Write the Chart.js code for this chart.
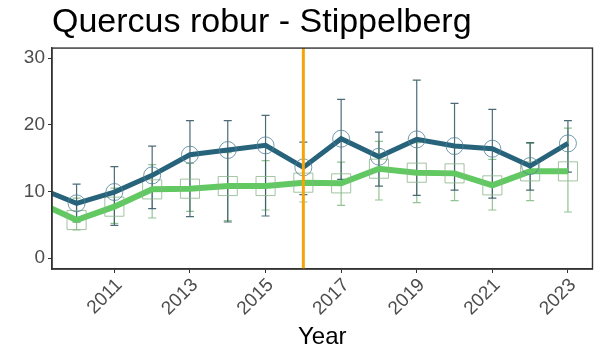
<!DOCTYPE html>
<html>
<head>
<meta charset="utf-8">
<script src="https://cdn.jsdelivr.net/npm/chart.js@4.4.1/dist/chart.umd.min.js"></script>
<style>
  html, body { margin: 0; padding: 0; background: #fff; }
  #wrap { width: 607px; height: 352px; }
</style>
</head>
<body>
<div id="wrap"><canvas id="chart" width="607" height="352"></canvas></div>
<script>
// years (2009 lies just outside the visible x range, only its line segment shows)
var years = [2009, 2010, 2011, 2012, 2013, 2014, 2015, 2016, 2017, 2018, 2019, 2020, 2021, 2022, 2023];

// dark teal series (circles)
var blueMean = [10.5, 8.2, 9.9, 12.4, 15.5, 16.2, 16.9, 13.6, 17.9, 15.2, 17.8, 16.8, 16.4, 13.8, 17.2];
var blueLow  = [null, 5.4, 4.9, 7.4, 6.2, 5.4, 6.3, 9.5, 11.8, 10.8, 9.4, 10.2, 9.0, 10.2, 12.9];
var blueHigh = [null, 11.1, 13.7, 16.8, 20.6, 20.6, 21.4, 17.4, 23.8, 18.9, 26.7, 23.2, 22.3, 17.3, 20.6];

// green series (squares)
var greenMean = [8.3, 5.7, 7.7, 10.3, 10.4, 10.8, 10.8, 11.3, 11.2, 13.4, 12.8, 12.7, 10.9, 13.0, 13.0];
var greenLow  = [null, 4.2, 5.2, 6.0, 7.0, 5.6, 7.2, 8.4, 7.9, 8.7, 8.3, 8.6, 7.2, 8.6, 6.9];
var greenHigh = [null, 9.0, 10.5, 14.0, 14.2, 15.8, 14.6, 14.0, 14.4, 17.5, 17.3, 17.0, 14.8, 17.2, 19.5];

var xTicks = [2011, 2013, 2015, 2017, 2019, 2021, 2023];
var yTicks = [0, 10, 20, 30];
var markerYear = 2016;

function toPoints(vals) {
  return years.map(function (y, i) { return { x: y, y: vals[i] }; });
}

// error bars + panel border + orange reference line
var extras = {
  id: 'extras',
  beforeDatasetsDraw: function (chart) {
    var ctx = chart.ctx, xs = chart.scales.x, ys = chart.scales.y, a = chart.chartArea;
    ctx.save();
    ctx.beginPath();
    ctx.rect(a.left, a.top, a.right - a.left, a.bottom - a.top);
    ctx.clip();
    function bars(lo, hi, color) {
      ctx.strokeStyle = color;
      ctx.lineWidth = 1.2;
      for (var i = 0; i < years.length; i++) {
        if (lo[i] == null) continue;
        var px = xs.getPixelForValue(years[i]);
        var p1 = ys.getPixelForValue(lo[i]), p2 = ys.getPixelForValue(hi[i]);
        ctx.beginPath();
        ctx.moveTo(px, p1); ctx.lineTo(px, p2);
        ctx.moveTo(px - 4, p1); ctx.lineTo(px + 4, p1);
        ctx.moveTo(px - 4, p2); ctx.lineTo(px + 4, p2);
        ctx.stroke();
      }
    }
    bars(greenLow, greenHigh, 'rgba(110,175,110,0.75)');
    bars(blueLow, blueHigh, 'rgba(45,80,95,0.85)');
    ctx.restore();
  },
  afterDatasetsDraw: function (chart) {
    var ctx = chart.ctx, xs = chart.scales.x, a = chart.chartArea;
    ctx.save();
    var px = xs.getPixelForValue(markerYear);
    ctx.strokeStyle = '#f5a50a';
    ctx.lineWidth = 3;
    ctx.beginPath();
    ctx.moveTo(px, a.top); ctx.lineTo(px, a.bottom);
    ctx.stroke();
    ctx.strokeStyle = '#333333';
    ctx.lineWidth = 1.4;
    ctx.strokeRect(a.left, a.top, a.right - a.left, a.bottom - a.top);
    ctx.restore();
  }
};

new Chart(document.getElementById('chart'), {
  type: 'line',
  data: {
    datasets: [{
      label: 'blue',
      data: toPoints(blueMean),
      borderColor: '#27647c',
      borderWidth: 5,
      pointStyle: 'circle',
      pointRadius: 8.5,
      pointBorderWidth: 1,
      pointBorderColor: 'rgba(80,130,150,0.8)',
      pointBackgroundColor: 'rgba(0,0,0,0)',
      tension: 0
    }, {
      label: 'green',
      data: toPoints(greenMean),
      borderColor: '#62c962',
      borderWidth: 6,
      pointStyle: 'rect',
      pointRadius: 13.5,
      pointBorderWidth: 1,
      pointBorderColor: 'rgba(140,180,140,0.8)',
      pointBackgroundColor: 'rgba(0,0,0,0)',
      tension: 0
    }]
  },
  options: {
    responsive: false,
    animation: false,
    layout: { padding: { left: 0, right: 10, top: 0, bottom: 0 } },
    plugins: {
      legend: { display: false },
      tooltip: { enabled: false },
      title: {
        display: true,
        text: 'Quercus robur - Stippelberg',
        align: 'start',
        fullSize: false,
        color: '#000',
        font: { family: 'Liberation Sans', size: 34, weight: 'normal', lineHeight: 1.12 },
        padding: { top: 4, bottom: 6 }
      }
    },
    scales: {
      x: {
        type: 'linear',
        min: 2009.35,
        max: 2023.65,
        afterBuildTicks: function (axis) { axis.ticks = xTicks.map(function (v) { return { value: v }; }); },
        afterFit: function (axis) { axis.height = 83; },
        grid: { drawOnChartArea: false, drawTicks: true, tickLength: 4, color: '#333333', lineWidth: 1 },
        border: { display: true, color: '#333333', width: 1.4 },
        ticks: {
          autoSkip: false,
          maxRotation: 45,
          minRotation: 45,
          padding: 1,
          labelOffset: 5,
          color: '#4d4d4d',
          font: { family: 'Liberation Sans', size: 19 },
          callback: function (v) { return String(v); }
        },
        title: {
          display: true,
          text: 'Year',
          color: '#000',
          font: { family: 'Liberation Sans', size: 24 },
          padding: { top: 0, bottom: 0 }
        }
      },
      y: {
        type: 'linear',
        min: -1.65,
        max: 31.5,
        afterBuildTicks: function (axis) { axis.ticks = yTicks.map(function (v) { return { value: v }; }); },
        afterFit: function (axis) { axis.width = 52; },
        grid: { drawOnChartArea: false, drawTicks: true, tickLength: 4, color: '#333333', lineWidth: 1 },
        border: { display: true, color: '#333333', width: 1.4 },
        ticks: {
          padding: 3,
          color: '#4d4d4d',
          font: { family: 'Liberation Sans', size: 19 }
        }
      }
    }
  },
  plugins: [extras]
});
</script>
</body>
</html>
